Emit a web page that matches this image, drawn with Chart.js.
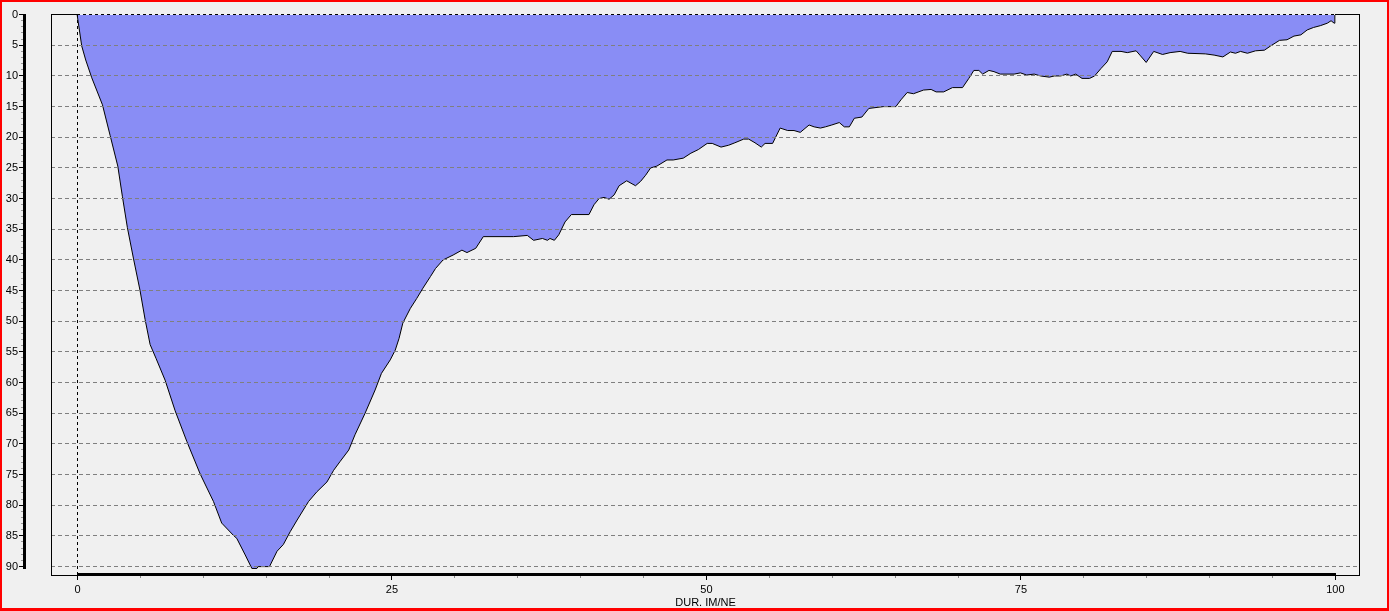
<!DOCTYPE html>
<html>
<head>
<meta charset="utf-8">
<script src="https://cdn.jsdelivr.net/npm/chart.js@4.4.0/dist/chart.umd.min.js"></script>
<style>
  html, body { margin: 0; padding: 0; background: #f0f0f0; }
  #wrap { width: 1389px; height: 611px; }
</style>
</head>
<body>
<div id="wrap"><canvas id="ddChart" width="1389" height="611"></canvas></div>
<script>
// duration (% of time) and drawdown depth
const durations = [0, 0.37, 0.69, 1.17, 2.02, 2.63, 3.24, 3.61, 4.0, 4.48, 5.01, 5.41, 5.81, 6.29, 7.0, 7.8, 8.73, 9.79,
  10.85, 11.5, 12.43, 12.7, 13.37, 13.9, 14.3, 14.4, 15.3, 15.9, 16.4, 16.95, 17.5, 18.4, 19.07, 19.87,
  20.4, 20.9, 21.6, 22.1, 22.9, 23.7, 24.2, 24.9, 25.3, 25.6, 25.9, 26.5, 27.0, 27.5, 28.1, 28.5, 29.1, 29.9,
  30.6, 31.0, 31.7, 32.3, 34.7, 35.8, 36.3, 37.0, 37.4, 37.6, 37.95, 38.3, 38.8, 39.3,
  40.7, 41.1, 41.5, 41.9, 42.3, 42.7, 43.1, 43.7, 44.4, 44.8, 45.2, 45.6, 46.1, 46.9, 47.4, 48.2, 48.8, 49.4,
  50.1, 50.5, 51.2, 51.8, 52.3, 53.0, 53.4, 53.9, 54.4, 54.7, 55.3, 55.9, 56.5, 57.0, 57.5, 58.2, 58.6, 59.1, 59.5,
  60.0, 60.6, 61.0, 61.4, 61.8, 62.4, 62.95, 64.1, 65.1, 65.5, 66.0, 66.5, 67.3, 67.9, 68.3, 68.9, 69.6,
  70.4, 70.9, 71.3, 71.7, 72.0, 72.5, 72.9, 73.4, 74.5, 75.0, 75.5, 76.1, 76.6, 77.3, 77.7, 78.2, 78.7, 79.0, 79.4, 79.9,
  80.5, 80.9, 81.4, 81.9, 82.3, 83.0, 83.5, 84.2, 84.5, 85.0, 85.6, 86.3, 86.9, 87.7, 88.3, 89.7,
  90.4, 91.1, 91.7, 92.1, 92.5, 93.05, 93.7, 94.4, 94.9, 95.6, 96.2, 96.75, 97.3, 97.8, 98.3, 98.85, 99.4, 99.7, 99.95, 100];
const depths = [0, 5.2, 7.5, 10.4, 14.8, 19.8, 24.8, 29.8, 34.8, 39.8, 45.1, 49.8, 53.9, 56.2, 59.7, 64.7, 69.7, 75.0,
  79.5, 83.0, 85.0, 85.5, 88.2, 90.4, 90.4, 90.1, 90.1, 87.6, 86.5, 84.4, 82.5, 79.5, 77.9, 76.3,
  74.4, 73.0, 71.1, 68.6, 65.1, 61.3, 58.6, 56.4, 54.8, 52.9, 50.4, 48.0, 46.4, 44.7, 42.8, 41.5, 40.1, 39.3,
  38.5, 38.9, 38.2, 36.3, 36.3, 36.1, 36.9, 36.6, 36.9, 36.6, 36.9, 36.0, 33.9, 32.7,
  32.7, 31.1, 30.1, 29.9, 30.2, 29.5, 28.0, 27.2, 28.0, 27.3, 26.3, 25.1, 24.8, 23.8, 23.8, 23.5, 22.7, 22.1,
  21.1, 21.1, 21.7, 21.4, 21.0, 20.4, 20.4, 21.0, 21.7, 21.1, 21.1, 18.6, 19.0, 19.0, 19.3, 18.1, 18.4, 18.6, 18.4,
  18.1, 17.7, 18.4, 18.4, 17.0, 16.8, 15.4, 15.1, 15.1, 14.0, 12.8, 13.0, 12.4, 12.3, 12.7, 12.7, 12.0,
  12.0, 10.5, 9.2, 9.2, 9.8, 9.2, 9.4, 9.8, 9.8, 9.6, 9.95, 9.8, 10.1, 10.3, 10.1, 10.1, 9.8, 10.1, 9.8, 10.5,
  10.5, 10.1, 8.9, 7.8, 6.1, 6.1, 6.3, 6.0, 6.7, 7.9, 6.1, 6.6, 6.3, 6.1, 6.4, 6.5,
  6.7, 7.0, 6.2, 6.4, 6.1, 6.4, 6.0, 5.9, 5.2, 4.3, 4.2, 3.6, 3.4, 2.6, 2.2, 1.9, 1.5, 1.1, 1.5, 0];

const xTicks = [0, 25, 50, 75, 100];
const yTicks = [0, 5, 10, 15, 20, 25, 30, 35, 40, 45, 50, 55, 60, 65, 70, 75, 80, 85, 90];
const xTitle = 'DUR. IM/NE';

const points = durations.map(function(d, i) { return { x: d, y: depths[i] }; });

const FONT = '11px "Liberation Sans", Arial, sans-serif';

// frame, grid and axes drawn around the plot
const framePlugin = {
  id: 'frame',
  beforeDraw: function(chart) {
    const ctx = chart.ctx;
    ctx.save();
    ctx.fillStyle = '#f0f0f0';
    ctx.fillRect(0, 0, chart.width, chart.height);
    ctx.restore();
  },
  afterDatasetsDraw: function(chart) {
    const ctx = chart.ctx;
    const a = chart.chartArea;
    const xs = chart.scales.x, ys = chart.scales.y;
    const x0 = Math.round(xs.getPixelForValue(0));
    const x100 = Math.round(xs.getPixelForValue(100));
    ctx.save();

    // horizontal dashed grid
    ctx.lineWidth = 1;
    ctx.strokeStyle = '#7f7f7f';
    ctx.setLineDash([4, 3]);
    yTicks.forEach(function(v) {
      if (v === 0) return;
      const y = Math.round(ys.getPixelForValue(v)) + 0.5;
      ctx.beginPath();
      ctx.moveTo(a.left, y);
      ctx.lineTo(a.right, y);
      ctx.stroke();
    });

    // plot box
    ctx.setLineDash([]);
    ctx.strokeStyle = '#000';
    ctx.strokeRect(a.left + 0.5, a.top + 0.5, a.right - a.left - 1, a.bottom - a.top);

    // zero lines (top + vertical at x = 0)
    ctx.fillStyle = '#f0f0f0';
    ctx.fillRect(x0, a.top, x100 - x0, 1);
    ctx.strokeStyle = '#000';
    ctx.setLineDash([3, 3]);
    ctx.beginPath();
    ctx.moveTo(x0, a.top + 0.5);
    ctx.lineTo(x100, a.top + 0.5);
    ctx.stroke();
    ctx.beginPath();
    ctx.moveTo(x0 + 0.5, a.top);
    ctx.lineTo(x0 + 0.5, a.bottom);
    ctx.stroke();
    ctx.setLineDash([]);

    // x axis: thick line over data range, ticks and labels
    ctx.fillStyle = '#000';
    ctx.fillRect(x0, a.bottom - 2, x100 - x0 + 1, 3);
    for (let v = 0; v <= 100; v += 5) {
      const px = Math.round(xs.getPixelForValue(v));
      const len = (v % 25 === 0) ? 4 : 2;
      ctx.fillStyle = (v % 25 === 0) ? '#000' : '#888';
      ctx.fillRect(px, a.bottom + 1, 1, len);
    }
    ctx.fillStyle = '#000';
    ctx.font = FONT;
    ctx.textAlign = 'center';
    ctx.textBaseline = 'middle';
    xTicks.forEach(function(v) {
      ctx.fillText(String(v), xs.getPixelForValue(v) + 0.5, 590);
    });
    ctx.fillText(xTitle, (a.left + a.right) / 2, 603);

    // y axis: separate thick line on the left
    const yTop = Math.round(ys.getPixelForValue(0));
    const y90 = Math.round(ys.getPixelForValue(90));
    ctx.fillRect(23, yTop, 3, y90 - yTop + 3);
    ctx.fillStyle = '#666';
    for (let v = 0; v <= 90; v += 1) {
      const py = Math.round(ys.getPixelForValue(v));
      if (v % 5 === 0) {
        ctx.fillStyle = '#000';
        ctx.fillRect(19, py, 4, 1);
      } else {
        ctx.fillStyle = '#999';
        ctx.fillRect(21, py, 2, 1);
      }
    }
    ctx.fillStyle = '#000';
    ctx.textAlign = 'right';
    yTicks.forEach(function(v) {
      ctx.fillText(String(v), 18, ys.getPixelForValue(v) + 0.5);
    });

    // red outer border
    ctx.fillStyle = '#ff0000';
    ctx.fillRect(0, 0, chart.width, 2);
    ctx.fillRect(0, 0, 2, chart.height);
    ctx.fillRect(chart.width - 2, 0, 2, chart.height);
    ctx.fillRect(0, chart.height - 3, chart.width, 3);
    ctx.restore();
  }
};

new Chart(document.getElementById('ddChart'), {
  type: 'scatter',
  data: {
    datasets: [{
      data: points,
      showLine: true,
      fill: 'origin',
      backgroundColor: 'rgb(137, 141, 245)',
      borderColor: '#000',
      borderWidth: 1,
      pointRadius: 0,
      tension: 0
    }]
  },
  options: {
    responsive: false,
    animation: false,
    devicePixelRatio: 1,
    layout: { padding: { left: 51, top: 14, right: 29, bottom: 36 } },
    plugins: { legend: { display: false }, tooltip: { enabled: false } },
    scales: {
      x: { type: 'linear', display: false, min: -2.07, max: 102 },
      y: { type: 'linear', display: false, reverse: true, min: 0, max: 91.47 }
    }
  },
  plugins: [framePlugin]
});
</script>
</body>
</html>
